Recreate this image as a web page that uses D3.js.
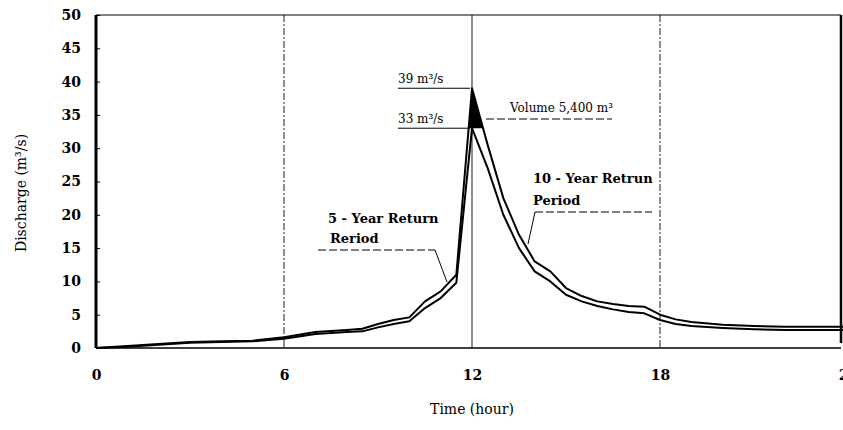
<!DOCTYPE html>
<html lang="en">
<head>
<meta charset="UTF-8">
<title>Discharge hydrograph</title>
<script src="https://d3js.org/d3.v7.min.js"></script>
<style>
  body { margin: 0; background: #fff; }
  .tick text { font-family: "DejaVu Serif", serif; font-size: 14px; font-weight: bold; fill: #000; }
  .note { font-family: "DejaVu Serif", serif; font-size: 13px; font-weight: bold; fill: #000; }
  .peak { font-family: "DejaVu Serif", serif; font-size: 12px; fill: #000; }
  .label { font-family: "DejaVu Serif", serif; font-size: 14px; fill: #000; }
  .line { fill: none; stroke: #000; stroke-width: 2px; stroke-linejoin: round; }
</style>
</head>
<body>
<div id="chart"></div>
<script>
// hydrograph values
var hours = [0, 1, 2, 3, 4, 5, 6, 7, 8, 8.5, 9, 9.5, 10, 10.5, 11, 11.5, 12,
             12.5, 13, 13.5, 14, 14.5, 15, 15.5, 16, 16.5, 17, 17.5, 18, 18.5, 19, 20, 21, 22, 23, 24];
var q10 = [0, 0.3, 0.6, 0.9, 1.0, 1.1, 1.6, 2.4, 2.7, 2.9, 3.6, 4.2, 4.6, 7.0, 8.5, 11.0, 39,
           30.5, 22.5, 17.0, 13.0, 11.5, 9.0, 7.8, 7.0, 6.6, 6.3, 6.2, 5.0, 4.3, 3.9, 3.5, 3.3, 3.2, 3.2, 3.2];
var q5  = [0, 0.2, 0.5, 0.8, 0.9, 1.0, 1.4, 2.1, 2.4, 2.5, 3.1, 3.6, 4.0, 6.0, 7.5, 9.8, 33,
           27.0, 20.0, 15.0, 11.5, 10.0, 8.0, 7.0, 6.3, 5.8, 5.4, 5.2, 4.2, 3.6, 3.3, 3.0, 2.8, 2.7, 2.7, 2.7];
var yTicks = [0, 5, 10, 15, 20, 25, 30, 35, 40, 45, 50];
var xTicks = [0, 6, 12, 18, 24];
var gridHours = [6, 12, 18];
var peak10 = 39, peak5 = 33;

var width = 843, height = 430;

var x = d3.scaleLinear().domain([0, 24]).range([96, 848]);
var y = d3.scaleLinear().domain([0, 50]).range([348, 15]);

var svg = d3.select("#chart").append("svg")
    .attr("width", width)
    .attr("height", height);

var data10 = hours.map(function(h, i) { return {t: h, v: q10[i]}; });
var data5 = hours.map(function(h, i) { return {t: h, v: q5[i]}; });

// vertical guide lines
svg.append("g").selectAll("line")
    .data(gridHours)
    .enter().append("line")
      .attr("x1", function(d) { return x(d); })
      .attr("x2", function(d) { return x(d); })
      .attr("y1", y(50))
      .attr("y2", y(0))
      .attr("stroke", "#000")
      .attr("stroke-width", 0.9)
      .attr("stroke-dasharray", function(d) { return d === 12 ? null : "7,2,2,2"; });

// volume between the two peaks (black triangle)
svg.append("clipPath").attr("id", "abovePeak5")
  .append("rect")
    .attr("x", 0).attr("y", 0)
    .attr("width", width).attr("height", y(peak5));

svg.append("path")
    .datum(data10)
    .attr("clip-path", "url(#abovePeak5)")
    .attr("fill", "#000")
    .attr("d", d3.area()
        .x(function(d) { return x(d.t); })
        .y0(y(0))
        .y1(function(d) { return y(d.v); }));

var line = d3.line()
    .x(function(d) { return x(d.t); })
    .y(function(d) { return y(d.v); });

svg.append("path").datum(data5).attr("class", "line").attr("d", line);
svg.append("path").datum(data10).attr("class", "line").attr("d", line);

// frame
svg.append("line").attr("x1", 96).attr("x2", 841).attr("y1", y(50)).attr("y2", y(50))
    .attr("stroke", "#000").attr("stroke-width", 1);
svg.append("line").attr("x1", 96).attr("x2", 841).attr("y1", y(0)).attr("y2", y(0))
    .attr("stroke", "#000").attr("stroke-width", 1.5);
svg.append("line").attr("x1", 96).attr("x2", 96).attr("y1", y(50)).attr("y2", y(0))
    .attr("stroke", "#000").attr("stroke-width", 3);
svg.append("line").attr("x1", 841).attr("x2", 841).attr("y1", y(50)).attr("y2", y(0) - 5)
    .attr("stroke", "#000").attr("stroke-width", 2.5);

// axes
var yAxis = svg.append("g")
    .attr("transform", "translate(96,0)")
    .call(d3.axisLeft(y).tickValues(yTicks).tickSizeInner(-4).tickSizeOuter(0).tickPadding(15));
yAxis.select(".domain").remove();

var xAxis = svg.append("g")
    .attr("transform", "translate(0," + y(0) + ")")
    .call(d3.axisBottom(x).tickValues(xTicks).tickSize(0).tickPadding(22));
xAxis.select(".domain").remove();

// axis titles
svg.append("text")
    .attr("class", "label")
    .attr("transform", "translate(26,193) rotate(-90)")
    .attr("text-anchor", "middle")
    .text("Discharge (m³/s)");

svg.append("text")
    .attr("class", "label")
    .attr("x", x(12))
    .attr("y", 414)
    .attr("text-anchor", "middle")
    .text("Time (hour)");

// peak annotations
function leader(x1, y1, x2, y2, dash) {
  svg.append("line")
      .attr("x1", x1).attr("y1", y1).attr("x2", x2).attr("y2", y2)
      .attr("stroke", "#000").attr("stroke-width", 1)
      .attr("stroke-dasharray", dash || null);
}

svg.append("text").attr("class", "peak").attr("x", 398).attr("y", y(peak10) - 5).text("39 m³/s");
leader(398, y(peak10), x(12) - 2, y(peak10));
svg.append("text").attr("class", "peak").attr("x", 398).attr("y", y(peak5) - 5).text("33 m³/s");
leader(398, y(peak5), x(12) - 2, y(peak5));

svg.append("text").attr("class", "peak").attr("x", 510).attr("y", 112).text("Volume 5,400 m³");
leader(486, 119, 612, 119, "8,3");

svg.append("text").attr("class", "note").attr("x", 533).attr("y", 183).text("10 - Year Retrun");
svg.append("text").attr("class", "note").attr("x", 533).attr("y", 205).text("Period");
leader(535, 212, 652, 212, "8,3");
leader(535, 212, 528, 244);

svg.append("text").attr("class", "note").attr("x", 328).attr("y", 223).text("5 - Year Return");
svg.append("text").attr("class", "note").attr("x", 330).attr("y", 243).text("Reriod");
leader(318, 250, 435, 250, "8,3");
leader(435, 250, 447, 282);
</script>
</body>
</html>
